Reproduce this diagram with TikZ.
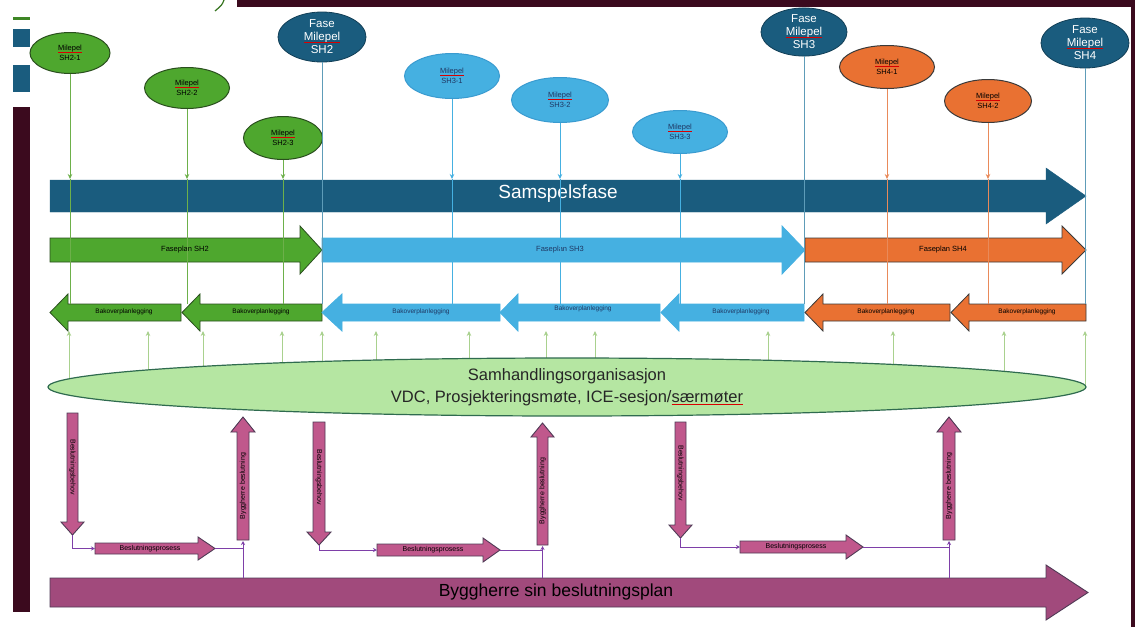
\documentclass[tikz,border=0pt]{standalone}
\usepackage{fontspec}
\setmainfont{Liberation Sans}
\usetikzlibrary{shapes.geometric,arrows.meta,calc}
\definecolor{cTeal}{HTML}{1A5C7E}
\definecolor{cTealD}{HTML}{123F57}
\definecolor{cTealL}{HTML}{5E9CB8}
\definecolor{cG}{HTML}{4EA72E}
\definecolor{cGd}{HTML}{2A4F1E}
\definecolor{cGl}{HTML}{6DB04A}
\definecolor{cB}{HTML}{45B0E1}
\definecolor{cBd}{HTML}{3A9BD0}
\definecolor{cBt}{HTML}{1F3864}
\definecolor{cO}{HTML}{E97132}
\definecolor{cOd}{HTML}{3A3A3A}
\definecolor{cOl}{HTML}{E98A5A}
\definecolor{cM}{HTML}{3B0A1E}
\definecolor{cP}{HTML}{A14A7C}
\definecolor{cPd}{HTML}{4F3A55}
\definecolor{cPk}{HTML}{C0588C}
\definecolor{cPl}{HTML}{7E3FA8}
\definecolor{cEl}{HTML}{B5E6A2}
\definecolor{cEld}{HTML}{2F6B4F}
\definecolor{cUp}{HTML}{A9D18E}
\newcommand{\spellu}[1]{\leavevmode\setbox0\hbox{#1}\rlap{\copy0}{\color{red!85!black}\rule[-0.15em]{\wd0}{0.45pt}}}
% block arrows
\newcommand{\barR}[7]{\draw[#1] (#2,#5) -- (#3,#5) -- (#3,{#5-#7}) -- (#4,{(#5+#6)/2}) -- (#3,{#6+#7}) -- (#3,#6) -- (#2,#6) -- cycle;}
\newcommand{\barL}[7]{\draw[#1] (#4,#5) -- (#3,#5) -- (#3,{#5-#7}) -- (#2,{(#5+#6)/2}) -- (#3,{#6+#7}) -- (#3,#6) -- (#4,#6) -- cycle;}
\newcommand{\barD}[7]{\draw[#1] (#2,#4) -- (#3,#4) -- (#3,#5) -- ({#3+#7},#5) -- ({(#2+#3)/2},#6) -- ({#2-#7},#5) -- (#2,#5) -- cycle;}
\newcommand{\barU}[7]{\draw[#1] (#2,#4) -- (#3,#4) -- (#3,#5) -- ({#3+#7},#5) -- ({(#2+#3)/2},#6) -- ({#2-#7},#5) -- (#2,#5) -- cycle;}
\tikzset{
  ms/.style={ellipse, inner sep=0pt, align=center, font=\fontsize{7.5}{9.5}\selectfont, line width=1pt},
  fs/.style={ellipse, inner sep=0pt, align=center, font=\fontsize{11.5}{13}\selectfont, fill=cTeal, draw=cTealD, line width=0.8pt, text=white, minimum width=88pt, minimum height=50pt},
  gms/.style={ms, fill=cG, draw=cGd},
  bms/.style={ms, fill=cB, draw=cBd, text=cBt},
  oms/.style={ms, fill=cO, draw=cOd},
  lab/.style={inner sep=0pt, font=\fontsize{7.5}{8}\selectfont},
  blab/.style={inner sep=0pt, font=\fontsize{6.5}{7}\selectfont},
  vlab/.style={inner sep=0pt, font=\fontsize{7}{7}\selectfont},
  pk/.style={fill=cPk, draw=cPd, line width=0.9pt},
  pline/.style={cPl, line width=0.7pt},
  ptip/.style={-{Stealth[length=4pt,width=4pt]}},
}
\begin{document}
\begin{tikzpicture}[x=1pt,y=-1pt]
\useasboundingbox (0,0) rectangle (1135,627);
\fill[white] (0,0) rectangle (1135,627);
% frame decorations
\fill[cM] (237,0) rectangle (1135,7);
\fill[cM] (1131,0) rectangle (1135,627);
\fill[cM] (13,107) rectangle (30,612);
\fill[cTeal] (13,29) rectangle (30,47);
\fill[cTeal] (13,65) rectangle (30,92);
\fill[cG!80!black] (13,17) rectangle (30,20);
\draw[cG!70!black, line width=1.2pt] (224,0) .. controls (222,5) .. (215,11);

% Samspelsfase
\barR{fill=cTeal, draw=cTeal}{50}{1046}{1086}{180}{212}{12}
\node[inner sep=0pt, text=white, font=\fontsize{19}{20}\selectfont] (sams) at (558,194) {Samspelsfase};

% Faseplan
\barR{fill=cG, draw=cGd, line width=0.8pt}{50}{300}{322}{238}{262}{12}
\barR{fill=cB, draw=cB, line width=0.8pt}{322}{782}{805}{238}{262}{12}
\barR{fill=cO, draw=cOd, line width=0.8pt}{805}{1062}{1086}{238}{262}{12}
\node[lab] (fp2) at (185,250) {Faseplan SH2};
\node[lab, text=cBt] (fp3) at (560,250) {Faseplan SH3};
\node[lab] (fp4) at (943,250) {Faseplan SH4};

% Bakoverplanlegging
\barL{fill=cG, draw=cGd, line width=0.8pt}{50}{68}{181}{304}{321}{10}
\barL{fill=cG, draw=cGd, line width=0.8pt}{182}{200}{322}{304}{321}{10}
\barL{fill=cB, draw=cB, line width=0.8pt}{322}{342}{500}{304}{321}{10}
\barL{fill=cB, draw=cB, line width=0.8pt}{500}{518}{660}{304}{321}{10}
\barL{fill=cB, draw=cB, line width=0.8pt}{661}{679}{804}{304}{321}{10}
\barL{fill=cO, draw=cOd, line width=0.8pt}{805}{823}{950}{304}{321}{10}
\barL{fill=cO, draw=cOd, line width=0.8pt}{951}{969}{1086}{304}{321}{10}
\node[blab] (bk1) at (124,312) {Bakoverplanlegging};
\node[blab] (bk2) at (261,312) {Bakoverplanlegging};
\node[blab, text=cBt] (bk3) at (421,312) {Bakoverplanlegging};
\node[blab, text=cBt] (bk4) at (583,309) {Bakoverplanlegging};
\node[blab, text=cBt] (bk5) at (741,312) {Bakoverplanlegging};
\node[blab] (bk6) at (886,312) {Bakoverplanlegging};
\node[blab] (bk7) at (1027,312) {Bakoverplanlegging};

% milestones
\node[gms, minimum width=80pt, minimum height=41pt] (m21) at (70,53) {\spellu{Milepel}\\SH2-1};
\node[gms, minimum width=85pt, minimum height=41pt] (m22) at (187,88) {\spellu{Milepel}\\SH2-2};
\node[gms, minimum width=79pt, minimum height=43pt] (m23) at (283,138) {\spellu{Milepel}\\SH2-3};
\node[bms, minimum width=95pt, minimum height=45pt] (m31) at (452,76) {\spellu{Milepel}\\SH3-1};
\node[bms, minimum width=97pt, minimum height=45pt] (m32) at (560,100) {\spellu{Milepel}\\SH3-2};
\node[bms, minimum width=95pt, minimum height=43pt] (m33) at (680,132) {\spellu{Milepel}\\SH3-3};
\node[oms, minimum width=95pt, minimum height=43pt] (m41) at (887,67) {\spellu{Milepel}\\SH4-1};
\node[oms, minimum width=87pt, minimum height=43pt] (m42) at (988,101) {\spellu{Milepel}\\SH4-2};
\node[fs] (f2) at (322,37) {Fase\\\spellu{Milepel}\\SH2};
\node[fs, minimum width=86pt, minimum height=47pt] (f3) at (804,32) {Fase\\\spellu{Milepel}\\SH3};
\node[fs] (f4) at (1085,43) {Fase\\\spellu{Milepel}\\SH4};

% milestone lines
\foreach \n/\x/\c in {m21/70/cGl, m22/187/cGl, m23/283/cGl, m31/452/cB, m32/560/cB, m33/680/cB, m41/887/cOl, m42/988/cOl} {
  \coordinate (\n a) at (\x,179);
  \coordinate (\n b) at (\x,304);
  \draw[\c, line width=0.8pt, -{Stealth[length=5pt,width=4.5pt]}] (\n.south) -- (\n a);
  \draw[\c, line width=0.8pt] (\n a) -- (\n b);
}
\foreach \n/\x in {f2/322, f3/804, f4/1085} {
  \coordinate (\n b) at (\x,304);
  \draw[cTealL, line width=0.8pt] (\n.south) -- (\n b);
}

% Samhandling ellipse with arrows up
\node[ellipse, minimum width=1038pt, minimum height=58pt, inner sep=0pt] (sam) at (567,387) {};
\foreach \x [count=\i] in {69,148,203,282,322,376,469,546,595,768,893,1004,1085} {
  \coordinate (u\i) at (\x,331);
  \draw[cUp, line width=0.8pt, -{Stealth[length=5pt,width=4.5pt]}] (u\i |- sam.center) -- (u\i);
}
\node[ellipse, minimum width=1038pt, minimum height=58pt, inner sep=0pt, fill=cEl, draw=cEld, line width=1.2pt, align=center, text=black!85, font=\fontsize{16.5}{22}\selectfont] (samt) at (567,387) {Samhandlingsorganisasjon\\VDC, Prosjekteringsmøte, ICE-sesjon/\spellu{særmøter}};

% bottom plan
\barR{fill=cP, draw=cPd, line width=0.9pt}{50}{1046}{1088}{578}{607}{13}
\node[inner sep=0pt, font=\fontsize{17.5}{19}\selectfont] (plan) at (556,592) {Byggherre sin beslutningsplan};

% group 1
\barD{pk}{67}{78}{413}{522}{535}{6}
\barR{pk}{95}{198}{215}{543}{554}{6}
\barU{pk}{237}{249}{540}{432}{417}{6}
\node[vlab, rotate=-90] (d1) at (72.5,467) {Beslutningsbehov};
\node[vlab] (p1) at (150,548.5) {Beslutningsprosess};
\node[vlab, rotate=90] (u1l) at (243,486) {Byggherre beslutning};
\coordinate (d1t) at (72.5,535);
\coordinate (p1s) at (95,548.5);
\coordinate (p1e) at (215,548.5);
\coordinate (u1b) at (243,541);
\coordinate (u1p) at (243,578);
\draw[pline, ptip] (d1t) |- (p1s);
\draw[pline] (p1e) -- (p1e -| u1b);
\draw[pline, ptip] (u1p) -- (u1b);

% group 2
\barD{pk}{313}{325}{422}{532}{545}{6}
\barR{pk}{377}{483}{500}{544}{556}{6}
\barU{pk}{537}{548}{545}{437}{423}{6}
\node[vlab, rotate=-90] (d2) at (319,477) {Beslutningsbehov};
\node[vlab] (p2) at (433,550) {Beslutningsprosess};
\node[vlab, rotate=90] (u2l) at (542.5,491) {Byggherre beslutning};
\coordinate (d2t) at (319,545);
\coordinate (p2s) at (377,550);
\coordinate (p2e) at (500,550);
\coordinate (u2b) at (542.5,546);
\coordinate (u2p) at (542.5,578);
\draw[pline, ptip] (d2t) |- (p2s);
\draw[pline] (p2e) -- (p2e -| u2b);
\draw[pline, ptip] (u2p) -- (u2b);

% group 3
\barD{pk}{675}{686}{422}{525}{538}{6}
\barR{pk}{740}{846}{863}{541}{553}{6}
\barU{pk}{943}{955}{540}{432}{417}{6}
\node[vlab, rotate=-90] (d3) at (680.5,473) {Beslutningsbehov};
\node[vlab] (p3) at (796,547) {Beslutningsprosess};
\node[vlab, rotate=90] (u3l) at (949,486) {Byggherre beslutning};
\coordinate (d3t) at (680.5,538);
\coordinate (p3s) at (740,547);
\coordinate (p3e) at (863,547);
\coordinate (u3b) at (949,541);
\coordinate (u3p) at (949,578);
\draw[pline, ptip] (d3t) |- (p3s);
\draw[pline] (p3e) -- (p3e -| u3b);
\draw[pline, ptip] (u3p) -- (u3b);
\end{tikzpicture}
\end{document}
